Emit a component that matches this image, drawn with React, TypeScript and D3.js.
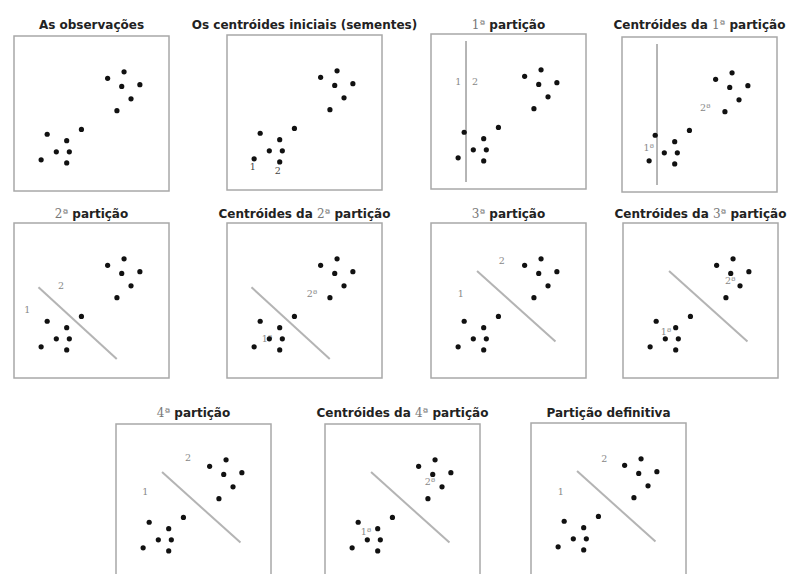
import * as d3 from "d3";

// the 13 observations, in the unit square [0,10] x [0,10] of every panel
const obsX = [7.1, 6.04, 6.95, 8.12, 7.55, 6.64, 4.35, 2.14, 3.4, 2.73, 3.57, 1.75, 3.4];
const obsY = [7.69, 7.27, 6.75, 6.86, 5.95, 5.18, 3.97, 3.66, 3.25, 2.53, 2.53, 2.01, 1.81];

// partition boundaries (segment end points)
const boundary1 = [[2.26, 9.55], [2.26, 0.45]];
const boundary2 = [[1.58, 5.85], [6.63, 1.23]];
const boundary3 = [[2.97, 6.9], [8.03, 2.35]];

// titles: [prefix, ordinal, rest]
const titles: [string, string, string][] = [
  ["As observações", "", ""],
  ["Os centróides iniciais (sementes)", "", ""],
  ["", "1ª", " partição"],
  ["Centróides da ", "1ª", " partição"],
  ["", "2ª", " partição"],
  ["Centróides da ", "2ª", " partição"],
  ["", "3ª", " partição"],
  ["Centróides da ", "3ª", " partição"],
  ["", "4ª", " partição"],
  ["Centróides da ", "4ª", " partição"],
  ["Partição definitiva", "", ""],
];

const boundaries = [null, null, boundary1, boundary1, boundary2, boundary2, boundary3, boundary3, boundary3, boundary3, boundary3];

// group labels per panel: [text, x, y]
const labels: [string, number, number][][] = [
  [],
  [["1", 1.66, 1.5], ["2", 3.27, 1.29]],
  [["1", 1.76, 6.92], ["2", 2.84, 6.92]],
  [["1ª", 1.72, 2.9], ["2ª", 5.37, 5.44]],
  [["1", 0.86, 4.41], ["2", 3.03, 5.98]],
  [["1ª", 2.58, 2.54], ["2ª", 5.48, 5.46]],
  [["1", 1.92, 5.48], ["2", 4.56, 7.59]],
  [["1ª", 2.77, 3.01], ["2ª", 6.92, 6.28]],
  [["1", 1.89, 5.66], ["2", 4.65, 7.81]],
  [["1ª", 2.65, 3.08], ["2ª", 6.77, 6.3]],
  [["1", 1.92, 5.59], ["2", 4.73, 7.74]],
];

// layout: top-left corner of each panel box and title baseline
const layout = [
  { x: 14, y: 36, ty: 29 },
  { x: 227, y: 35, ty: 29 },
  { x: 431, y: 34, ty: 29 },
  { x: 622, y: 37, ty: 29 },
  { x: 14, y: 223, ty: 218 },
  { x: 227, y: 223, ty: 218 },
  { x: 431, y: 223, ty: 218 },
  { x: 623, y: 223, ty: 218 },
  { x: 116, y: 424, ty: 417 },
  { x: 325, y: 424, ty: 417 },
  { x: 531, y: 423, ty: 417 },
];

const SIZE = 155;
const x = d3.scaleLinear().domain([0, 10]).range([0, SIZE]);
const y = d3.scaleLinear().domain([0, 10]).range([SIZE, 0]);
const line = d3.line<number[]>().x((d) => x(d[0])).y((d) => y(d[1]));

const Panel = ({ i }: { i: number }) => {
  const { x: px, y: py, ty } = layout[i];
  const [pre, ord, rest] = titles[i];
  const b = boundaries[i];
  return (
    <g>
      <text
        x={px + SIZE / 2}
        y={ty}
        textAnchor="middle"
        fontFamily="'DejaVu Sans', sans-serif"
        fontWeight="bold"
        fontSize={12}
        fill="#222"
      >
        {pre}
        {ord && (
          <tspan fontWeight="normal" fill="#777" fontFamily="'DejaVu Serif', serif">
            {ord}
          </tspan>
        )}
        {rest}
      </text>
      <g transform={`translate(${px},${py})`}>
        <rect width={SIZE} height={SIZE} fill="#fff" stroke="#a8a8a8" strokeWidth={1.5} />
        {b && <path d={line(b) ?? ""} stroke="#b4b4b4" strokeWidth={2} fill="none" />}
        {labels[i].map(([t, lx, ly], k) => (
          <text
            key={k}
            x={x(lx)}
            y={y(ly)}
            textAnchor="middle"
            dominantBaseline="central"
            fontFamily="'DejaVu Serif', serif"
            fontSize={9.5}
            fill={i === 1 ? "#444" : "#888"}
          >
            {t}
          </text>
        ))}
        {obsX.map((v, k) => (
          <circle key={k} cx={x(v)} cy={y(obsY[k])} r={2.6} fill="#111" />
        ))}
      </g>
    </g>
  );
};

export default function App() {
  return (
    <div style={{ position: "absolute", left: 0, top: 0 }}>
      <svg width={794} height={574} style={{ display: "block", background: "#fff" }}>
        {titles.map((_, i) => (
          <Panel key={i} i={i} />
        ))}
      </svg>
    </div>
  );
}
